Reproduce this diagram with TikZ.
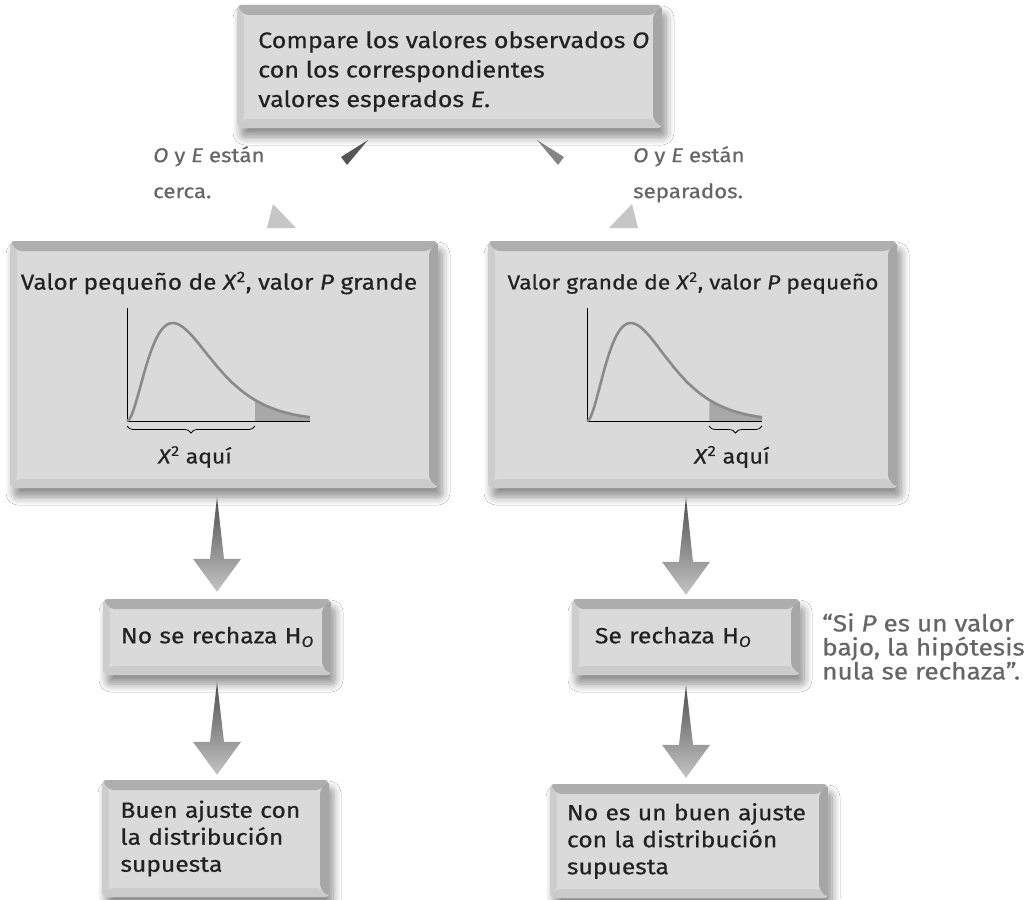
\documentclass[tikz,border=0pt]{standalone}
\usepackage{fontspec}
\setmainfont{Fira Sans}[FakeStretch=1.12, FakeBold=0.5]
\usetikzlibrary{calc,shadows.blur,decorations.pathreplacing}
\definecolor{panelfill}{HTML}{DADADA}
\definecolor{bevT}{HTML}{AEAEAE}
\definecolor{bevR}{HTML}{A6A6A6}
\definecolor{bevL}{HTML}{CDCDCD}
\definecolor{bevB}{HTML}{CBCBCB}
\definecolor{txt}{HTML}{222222}
\definecolor{lbl}{HTML}{666666}
\definecolor{arrdark}{HTML}{4E4E4E}
\definecolor{arrlight}{HTML}{C4C4C4}
\definecolor{curvec}{HTML}{8A8A8A}
\definecolor{tailc}{HTML}{A8A8A8}
\definecolor{wedgeL}{HTML}{555555}
\definecolor{wedgeR}{HTML}{858585}
\definecolor{headc}{HTML}{C6C6C6}
\tikzset{
  panel/.style={rectangle, rounded corners=4pt, fill=panelfill, inner sep=0pt,
    blur shadow={shadow xshift=4pt, shadow yshift=-9pt, shadow blur radius=8pt, shadow blur steps=8, shadow opacity=45},
    path picture={
      \path (path picture bounding box.north west) coordinate (pNW)
            (path picture bounding box.north east) coordinate (pNE)
            (path picture bounding box.south west) coordinate (pSW)
            (path picture bounding box.south east) coordinate (pSE);
      \fill[bevL] (pNW) -- ([xshift=7pt,yshift=-10pt]pNW) -- ([xshift=7pt,yshift=9pt]pSW) -- (pSW) -- cycle;
      \fill[bevB] (pSW) -- ([xshift=7pt,yshift=9pt]pSW) -- ([xshift=-9pt,yshift=9pt]pSE) -- (pSE) -- cycle;
      \fill[bevT] (pNW) -- (pNE) -- ([xshift=-9pt,yshift=-10pt]pNE) -- ([xshift=7pt,yshift=-10pt]pNW) -- cycle;
      \fill[bevR] (pNE) -- (pSE) -- ([xshift=-9pt,yshift=9pt]pSE) -- ([xshift=-9pt,yshift=-10pt]pNE) -- cycle;
    }},
  boxtext/.style={font=\fontsize{22}{28}\selectfont, text=txt, align=left},
  lbltext/.style={font=\fontsize{19.9}{36}\selectfont, text=lbl, align=left, inner sep=0pt, anchor=north west},
  notetext/.style={font=\fontsize{23.4}{24}\selectfont, text=lbl, align=left, inner sep=0pt, anchor=north west},
  bigarrow/.style={top color=arrdark, bottom color=arrlight, draw=none},
  curve/.style={draw=curvec, line width=2.6pt},
  axis/.style={draw=black, line width=0.9pt},
  bracestyle/.style={draw=black, line width=0.8pt, decorate, decoration={brace, mirror, amplitude=7pt}},
}
\newcommand\arrowdown[2]{%
  \path[bigarrow] let \p1=(#1), \p2=(#2) in
    (\x2,\y1) -- (\x2+7pt,\y2+33pt) -- (\x2+24pt,\y2+33pt) -- (\x2,\y2)
    -- (\x2-24pt,\y2+33pt) -- (\x2-7pt,\y2+33pt) -- cycle;}
\begin{document}
\begin{tikzpicture}[x=1pt,y=-1pt]
\useasboundingbox[fill=white] (0,0) rectangle (1027,899);

% top box
\node[panel, minimum width=425pt, minimum height=123pt] (top) at (449.5,66.5) {};
\node[boxtext, anchor=north west, inner sep=0pt, font=\fontsize{22.4}{29.5}\selectfont] (toptext) at (258,31)
  {Compare los valores observados \textit{O}\\con los correspondientes\\valores esperados \textit{E}.};

% pointers
\fill[wedgeL] (368,140) -- (341,157) -- (347,165) -- cycle;
\fill[wedgeR] (537,140) -- (564,157) -- (558,165) -- cycle;
\fill[headc] (273,204) -- (267,228) -- (296,228) -- cycle;
\fill[headc] (632,204) -- (638,228) -- (609,228) -- cycle;

% labels
\node[lbltext] (lblL) at (153,146) {\textit{O} y \textit{E} están\\cerca.};
\node[lbltext] (lblR) at (633,146) {\textit{O} y \textit{E} están\\separados.};

% middle boxes
\node[panel, minimum width=428pt, minimum height=247pt] (midL) at (224,364.5) {};
\node[panel, minimum width=409pt, minimum height=247pt] (midR) at (692.5,364.5) {};
\node[boxtext, inner sep=0pt, font=\fontsize{21.8}{28}\selectfont] (titleL) at (219,283) {Valor pequeño de \textit{X}\textsuperscript{2}, valor \textit{P} grande};
\node[boxtext, inner sep=0pt, font=\fontsize{20.4}{28}\selectfont] (titleR) at (693,283) {Valor grande de \textit{X}\textsuperscript{2}, valor \textit{P} pequeño};

% left plot
\fill[tailc] (255.1,421) -- plot[domain=5.6:8, samples=30] ({127+\x*22.875},{421-98*\x*\x*exp(-\x)/0.5413}) -- (310,421) -- cycle;
\draw[axis] (127,308) -- (127,421) -- (310,421);
\draw[curve] plot[domain=0:8, samples=80, smooth] ({127+\x*22.875},{421-98*\x*\x*exp(-\x)/0.5413});
\draw[bracestyle] (127,426) -- (255,426);
\node[boxtext, inner sep=0pt, font=\fontsize{20.5}{28}\selectfont] (aquiL) at (195,457) {\textit{X}\textsuperscript{2} aquí};

% right plot
\fill[tailc] (709.4,421) -- plot[domain=5.6:8, samples=30] ({587+\x*21.875},{421-98*\x*\x*exp(-\x)/0.5413}) -- (762,421) -- cycle;
\draw[axis] (587,308) -- (587,421) -- (762,421);
\draw[curve] plot[domain=0:8, samples=80, smooth] ({587+\x*21.875},{421-98*\x*\x*exp(-\x)/0.5413});
\draw[bracestyle] (709,426) -- (762,426);
\node[boxtext, inner sep=0pt, font=\fontsize{21}{28}\selectfont] (aquiR) at (732,457) {\textit{X}\textsuperscript{2} aquí};

% decision boxes
\node[panel, minimum width=228pt, minimum height=76pt, boxtext, text width=192pt, inner xsep=18pt] (rejL) at (217,637) {\mbox{No se rechaza H\textsubscript{\textit{O}}}};
\node[panel, minimum width=228pt, minimum height=76pt, boxtext, text width=182pt, inner xsep=23pt] (rejR) at (686,637) {\mbox{Se rechaza H\textsubscript{\textit{O}}}};
\node[panel, minimum width=227pt, minimum height=117pt, boxtext, text width=190pt, inner xsep=18pt, font=\fontsize{22}{27}\selectfont] (fitL) at (215.5,838.5) {Buen ajuste con\\la distribución\\supuesta};
\node[panel, minimum width=278pt, minimum height=114pt, boxtext, text width=244pt, inner xsep=17pt, font=\fontsize{22}{27}\selectfont] (fitR) at (689,841) {No es un buen ajuste\\con la distribución\\supuesta};

% note
\node[notetext] (note) at (822,613) {“Si \textit{P} es un valor\\bajo, la hipótesis\\nula se rechaza”.};

% big arrows
\coordinate (aL1s) at ($(midL.south -| rejL.north)+(0,9)$);
\coordinate (aL1e) at ($(rejL.north)+(0,-7)$);
\coordinate (aL2s) at ($(rejL.south)+(0,7)$);
\coordinate (aL2e) at ($(fitL.north -| rejL.north)+(0,-5)$);
\coordinate (aR1s) at ($(midR.south -| rejR.north)+(0,9)$);
\coordinate (aR1e) at ($(rejR.north)+(0,-4)$);
\coordinate (aR2s) at ($(rejR.south)+(0,10)$);
\coordinate (aR2e) at ($(fitR.north -| rejR.north)+(0,-6)$);
\arrowdown{aL1s}{aL1e}
\arrowdown{aL2s}{aL2e}
\arrowdown{aR1s}{aR1e}
\arrowdown{aR2s}{aR2e}
\end{tikzpicture}
\end{document}
